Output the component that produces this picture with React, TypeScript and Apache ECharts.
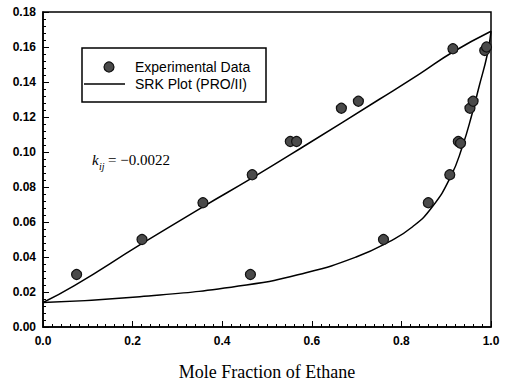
import React, { useEffect, useRef } from "react";
import * as echarts from "echarts";

// Experimental data (mole fraction of ethane, y value)
const expX = [0.075, 0.221, 0.357, 0.463, 0.467, 0.552, 0.566, 0.666, 0.704, 0.76, 0.86, 0.908, 0.915, 0.927, 0.932, 0.953, 0.96, 0.986, 0.99];
const expY = [0.030, 0.050, 0.071, 0.030, 0.087, 0.106, 0.106, 0.125, 0.129, 0.050, 0.071, 0.087, 0.159, 0.106, 0.105, 0.125, 0.129, 0.158, 0.160];

// SRK model curve — upper branch
const upperX = [0, 0.07, 0.216, 0.357, 0.467, 0.587, 0.75, 0.84, 0.914, 1.0];
const upperY = [0.014, 0.0236, 0.0469, 0.0687, 0.0852, 0.104, 0.130, 0.1445, 0.157, 0.169];

// SRK model curve — lower branch
const lowerX = [0, 0.216, 0.454, 0.587, 0.699, 0.773, 0.825, 0.869, 0.91, 0.936, 0.958, 0.973, 0.992, 1.0];
const lowerY = [0.014, 0.0173, 0.024, 0.031, 0.040, 0.0488, 0.0573, 0.0687, 0.0859, 0.103, 0.122, 0.137, 0.156, 0.169];

const xTitle = "Mole Fraction of Ethane";
const legendLabels = ["Experimental Data", "SRK Plot (PRO/II)"];
const kijValue = "= \u22120.0022";

const sans = "'Liberation Sans', Arial, Helvetica, sans-serif";
const serif = "'Liberation Serif', 'Times New Roman', serif";

export default function App() {
  const ref = useRef<HTMLDivElement>(null);
  useEffect(() => {
    if (!ref.current) return;
    const chart = echarts.init(ref.current, undefined, { renderer: "svg" });
    const pairs = (xs: number[], ys: number[]) => xs.map((x, i) => [x, ys[i]]);
    chart.setOption({
      animation: false,
      backgroundColor: "#fff",
      grid: {
        left: 43, right: 14, top: 12, bottom: 62,
        show: true, borderColor: "#000", borderWidth: 1.5, backgroundColor: "transparent",
      },
      xAxis: {
        type: "value", min: 0, max: 1, interval: 0.2,
        name: xTitle, nameLocation: "middle", nameGap: 36,
        nameTextStyle: { fontFamily: serif, fontSize: 18, color: "#000" },
        axisLine: { show: true, lineStyle: { color: "#000", width: 1.5 } },
        axisTick: { show: true, inside: true, length: 6, lineStyle: { color: "#000" } },
        minorTick: { show: true, splitNumber: 10, length: 3, lineStyle: { color: "#000" } },
        splitLine: { show: false },
        axisLabel: { formatter: (v: number) => v.toFixed(1), fontFamily: sans, fontSize: 12, fontWeight: "bold", color: "#000", margin: 8 },
      },
      yAxis: {
        type: "value", min: 0, max: 0.18, interval: 0.02,
        axisLine: { show: true, lineStyle: { color: "#000", width: 1.5 } },
        axisTick: { show: true, inside: true, length: 6, lineStyle: { color: "#000" } },
        minorTick: { show: true, splitNumber: 5, length: 3, lineStyle: { color: "#000" } },
        splitLine: { show: false },
        axisLabel: { formatter: (v: number) => v.toFixed(2), fontFamily: sans, fontSize: 12, fontWeight: "bold", color: "#000", margin: 7 },
      },
      series: [
        {
          name: legendLabels[1], type: "line", data: pairs(upperX, upperY),
          showSymbol: false, smooth: 0.5, lineStyle: { color: "#000", width: 1.5 },
        },
        {
          name: legendLabels[1] + " lower", type: "line", data: pairs(lowerX, lowerY),
          showSymbol: false, smooth: 0.5, lineStyle: { color: "#000", width: 1.5 },
        },
        {
          name: legendLabels[0], type: "scatter", data: pairs(expX, expY), symbolSize: 10,
          itemStyle: { color: "#4a4a4a", borderColor: "#111", borderWidth: 1.2, opacity: 1 },
          z: 5,
        },
      ],
      graphic: [
        { type: "rect", shape: { x: 82, y: 48, width: 184, height: 54 }, style: { fill: "#fff", stroke: "#000", lineWidth: 1.5 }, z: 10 },
        { type: "circle", shape: { cx: 109, cy: 67, r: 5 }, style: { fill: "#4a4a4a", stroke: "#111", lineWidth: 1.2 }, z: 11 },
        { type: "line", shape: { x1: 84, y1: 84, x2: 125, y2: 84 }, style: { stroke: "#000", lineWidth: 1.5 }, z: 11 },
        { type: "text", x: 135, y: 67, style: { text: legendLabels[0], font: `14px ${sans}`, fill: "#000", verticalAlign: "middle" }, z: 11 },
        { type: "text", x: 135, y: 84, style: { text: legendLabels[1], font: `14px ${sans}`, fill: "#000", verticalAlign: "middle" }, z: 11 },
        { type: "text", x: 92, y: 167, style: { text: "k", font: `italic 15px ${serif}`, fill: "#000", verticalAlign: "bottom" }, z: 11 },
        { type: "text", x: 99, y: 171, style: { text: "ij", font: `italic 10px ${serif}`, fill: "#000", verticalAlign: "bottom" }, z: 11 },
        { type: "text", x: 108, y: 167, style: { text: kijValue, font: `15px ${serif}`, fill: "#000", verticalAlign: "bottom" }, z: 11 },
      ],
    });
    return () => chart.dispose();
  }, []);
  return <div ref={ref} style={{ position: "fixed", left: 0, top: 0, width: 505, height: 389 }} />;
}
